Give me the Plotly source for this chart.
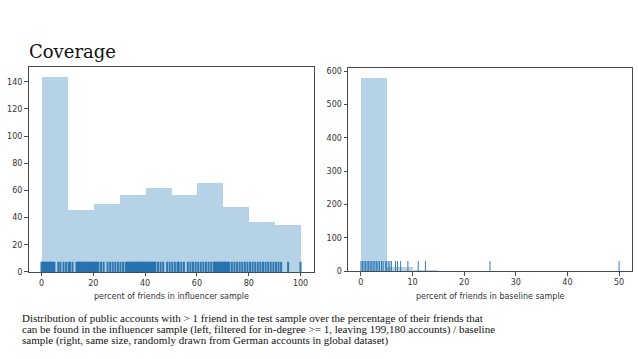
import plotly.graph_objects as go

# ---------------- data ----------------
left_bin_edges = [0, 10, 20, 30, 40, 50, 60, 70, 80, 90, 100]
left_counts = [144, 46, 50, 57, 62, 57, 66, 48, 37, 35]
left_rug = [0, 0.5, 1, 1.5, 2, 2.5, 3, 3.5, 4, 4.5, 5, 6.5, 7.3, 8.5, 9.5,
            10.5, 11, 12, 13.5, 14, 14.5, 15, 15.5, 16, 16.5, 17, 17.5, 18,
            18.5, 19, 19.5, 20, 20.5, 21, 21.5, 22, 23, 24, 25.5, 26.5, 27.5,
            28.5, 29.5, 30.5, 31.5, 32.5, 33, 33.5, 34, 34.5, 35, 35.5, 36,
            36.5, 37, 37.5, 38, 38.5, 39, 39.5, 40, 40.5, 41, 41.5, 42, 42.5,
            43, 43.5, 44, 45, 46, 47, 48.5, 49.5, 50.5, 51.5, 52.5, 53, 54,
            55, 56.5, 57.5, 58.5, 59.5, 60.5, 61.5, 62.5, 63.5, 64.5, 65.5,
            66.5, 67, 67.5, 68, 68.5, 69, 69.5, 70, 70.5, 71, 71.5, 72, 72.5,
            73.5, 74.5, 75.5, 76.5, 77.5, 78.5, 79.5, 80.5, 81.5, 82.5, 83.5,
            84.5, 85.5, 86.5, 87.5, 88.5, 89.5, 90.5, 91.5, 92.5, 95.2, 100]

right_bin_edges = [0, 5, 10, 15, 20, 25, 30, 35, 40, 45, 50]
right_counts = [580, 12, 4, 0, 0, 1, 0, 0, 0, 1]
right_rug = [0, 0.3, 0.6, 0.9, 1.2, 1.5, 1.8, 2.1, 2.4, 2.7, 3.0, 3.3, 3.6,
             4.0, 4.3, 4.8, 5.0, 5.3, 5.6, 5.9, 6.7, 7.1, 7.7, 9.1, 11.1,
             12.5, 25, 50]

left_xticks = [0, 20, 40, 60, 80, 100]
left_yticks = [0, 20, 40, 60, 80, 100, 120, 140]
right_xticks = [0, 10, 20, 30, 40, 50]
right_yticks = [0, 100, 200, 300, 400, 500, 600]

title_text = "Coverage"
left_xlabel = "percent of friends in influencer sample"
right_xlabel = "percent of friends in baseline sample"
caption_lines = [
    "Distribution of public accounts with &gt; 1 friend in the test sample over the percentage of their friends that",
    "can be found in the influencer sample (left, filtered for in-degree &gt;= 1, leaving 199,180 accounts) / baseline",
    "sample (right, same size, randomly drawn from German accounts in global dataset)",
]

# ---------------- figure ----------------
W, H = 638, 359
EFF_H = 355.0  # empirical vertical pixel mapping
BAR_COLOR = "rgba(31,119,180,0.33)"
RUG_COLOR = "rgba(31,110,172,0.9)"
TICK_FONT = dict(family="DejaVu Sans", size=8, color="#333333")
SPINE = "#4a4a4a"


def py(p):
    return 1 - p / EFF_H


fig = go.Figure()


def add_hist(edges, counts, xa, ya):
    centers = [(edges[i] + edges[i + 1]) / 2 for i in range(len(counts))]
    widths = [edges[i + 1] - edges[i] for i in range(len(counts))]
    fig.add_trace(go.Bar(x=centers, y=counts, width=widths,
                         marker=dict(color=BAR_COLOR, line=dict(width=0)),
                         xaxis=xa, yaxis=ya, showlegend=False,
                         hoverinfo="skip"))


def add_rug(vals, height, xa, ya, lw):
    xs, ys = [], []
    for v in vals:
        xs += [v, v, None]
        ys += [0, height, None]
    fig.add_trace(go.Scatter(x=xs, y=ys, mode="lines",
                             line=dict(color=RUG_COLOR, width=lw),
                             xaxis=xa, yaxis=ya, showlegend=False,
                             hoverinfo="skip"))


l_ymax = max(left_counts) * 1.05
r_ymax = max(right_counts) * 1.05

add_hist(left_bin_edges, left_counts, "x", "y")
add_rug(left_rug, l_ymax * 0.05, "x", "y", 2.0)
add_hist(right_bin_edges, right_counts, "x2", "y2")
add_rug(right_rug, r_ymax * 0.05, "x2", "y2", 1.0)

lx0, lx1 = left_bin_edges[0], left_bin_edges[-1]
rx0, rx1 = right_bin_edges[0], right_bin_edges[-1]
lpad = (lx1 - lx0) * 0.05
rpad = (rx1 - rx0) * 0.05

axis_common = dict(showline=True, mirror=True, linecolor=SPINE, linewidth=1,
                   showgrid=False, zeroline=False, ticks="outside",
                   ticklen=3.5, tickwidth=0.8, tickcolor=SPINE,
                   tickfont=TICK_FONT)

fig.update_layout(
    width=W, height=H,
    margin=dict(l=0, r=0, t=0, b=0),
    paper_bgcolor="white", plot_bgcolor="white",
    bargap=0,
    xaxis=dict(domain=[28.5 / W, 313.5 / W], range=[lx0 - lpad, lx1 + lpad],
               tickvals=left_xticks, anchor="y", **axis_common),
    yaxis=dict(domain=[py(272.5), py(66)], range=[0, l_ymax],
               tickvals=left_yticks, anchor="x", **axis_common),
    xaxis2=dict(domain=[348 / W, 632 / W], range=[rx0 - rpad, rx1 + rpad],
                tickvals=right_xticks, anchor="y2", **axis_common),
    yaxis2=dict(domain=[py(271.7), py(67.7)], range=[0, r_ymax],
                tickvals=right_yticks, anchor="x2", **axis_common),
)

annotations = [
    dict(text=title_text, x=27 / W, y=py(50.5), xref="paper", yref="paper",
         xanchor="left", yanchor="middle", showarrow=False,
         font=dict(family="DejaVu Serif", size=18, color="#111111")),
    dict(text=left_xlabel, x=171 / W, y=py(297), xref="paper",
         yref="paper", xanchor="center", yanchor="middle", showarrow=False,
         font=dict(family="DejaVu Sans", size=8, color="#333333")),
    dict(text=right_xlabel, x=490 / W, y=py(297), xref="paper",
         yref="paper", xanchor="center", yanchor="middle", showarrow=False,
         font=dict(family="DejaVu Sans", size=8, color="#333333")),
]
for i, line in enumerate(caption_lines):
    annotations.append(dict(text=line, x=21 / W, y=py(319 + 11.3 * i),
                            xref="paper", yref="paper", xanchor="left",
                            yanchor="middle", showarrow=False, borderpad=0,
                            font=dict(family="Liberation Serif", size=11.0,
                                      color="#111111")))
fig.update_layout(annotations=annotations)

fig.write_html("out.html",
               config={"displayModeBar": False},
               post_script="document.body.style.margin='0';"
                           "document.body.style.overflow='hidden';")
